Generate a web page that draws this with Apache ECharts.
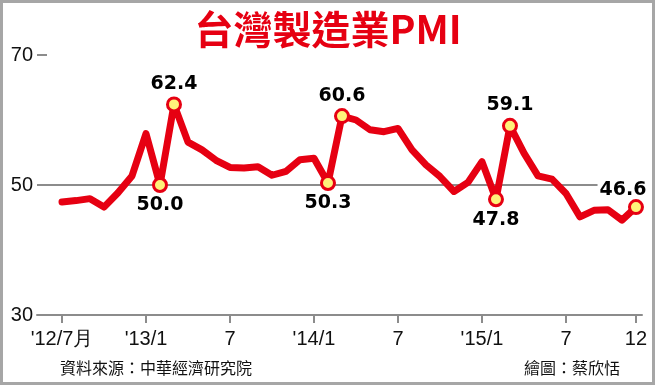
<!DOCTYPE html>
<html>
<head>
<meta charset="utf-8">
<script src="https://cdn.jsdelivr.net/npm/echarts@6/dist/echarts.min.js"></script>
<style>
html,body{margin:0;padding:0;background:#fff;}
#c{width:656px;height:386px;}
</style>
</head>
<body>
<div id="c"></div>
<script>
// months from 2012/7 to 2015/12
const months = [
  '2012/7','2012/8','2012/9','2012/10','2012/11','2012/12',
  '2013/1','2013/2','2013/3','2013/4','2013/5','2013/6','2013/7','2013/8','2013/9','2013/10','2013/11','2013/12',
  '2014/1','2014/2','2014/3','2014/4','2014/5','2014/6','2014/7','2014/8','2014/9','2014/10','2014/11','2014/12',
  '2015/1','2015/2','2015/3','2015/4','2015/5','2015/6','2015/7','2015/8','2015/9','2015/10','2015/11','2015/12'
];
const pmi = [
  47.4, 47.6, 47.9, 46.6, 48.8, 51.4,
  57.9, 50.0, 62.4, 56.6, 55.4, 53.8, 52.7, 52.6, 52.8, 51.5, 52.1, 53.9,
  54.1, 50.3, 60.6, 60.0, 58.5, 58.2, 58.7, 55.4, 53.1, 51.3, 49.0, 50.4,
  53.6, 47.8, 59.1, 54.9, 51.4, 50.9, 48.7, 45.1, 46.1, 46.2, 44.6, 46.6
];
// highlighted points (month index) and label side
const markIdx = [7, 8, 19, 20, 31, 32, 41];
const markSide = ['bottom', 'top', 'bottom', 'top', 'bottom', 'top', 'top'];
// x tick positions (month index) and their labels
const tickIdx = [0, 6, 12, 18, 24, 30, 36, 41];
const tickLabels = ["'12/7月", "'13/1", '7', "'14/1", '7', "'15/1", '7', '12'];

const chart = echarts.init(document.getElementById('c'), null, {renderer: 'canvas'});

const lineData = pmi.map((v, i) => [i, v]);
const markData = markIdx.map((idx, k) => ({
  value: [idx, pmi[idx]],
  label: Object.assign({
    position: markSide[k]
  }, idx === 41 ? {offset: [-13, 3], backgroundColor: '#fff', padding: [0, 2]} : {})
}));

const option = {
  animation: false,
  backgroundColor: '#fff',
  title: {
    text: '台灣製造業PMI',
    left: 'center',
    top: 5,
    textStyle: {
      color: '#e60012',
      fontSize: 39,
      fontWeight: 'bold',
      fontFamily: 'Noto Sans CJK TC'
    }
  },
  grid: {left: 37, right: 14, top: 55, bottom: 71},
  xAxis: {
    type: 'value',
    min: -1.786,
    max: 41.43,
    axisLine: {show: true, onZero: false, lineStyle: {color: '#8c8c8c', width: 2}},
    axisTick: {show: true, customValues: tickIdx, length: 8, lineStyle: {color: '#8c8c8c', width: 2}},
    axisLabel: {
      customValues: tickIdx,
      formatter: (v) => tickLabels[tickIdx.indexOf(Math.round(v))] || '',
      color: '#111',
      fontSize: 20,
      fontFamily: 'Liberation Sans',
      margin: 14
    },
    splitLine: {show: false}
  },
  yAxis: {
    type: 'value',
    min: 30,
    max: 70,
    interval: 20,
    axisLine: {show: false, onZero: false},
    axisTick: {show: true, inside: true, length: 10, lineStyle: {color: '#8c8c8c', width: 2}},
    axisLabel: {
      color: '#111',
      fontSize: 20,
      fontFamily: 'Liberation Sans',
      margin: 4
    },
    splitLine: {show: true, showMinLine: false, showMaxLine: false, lineStyle: {color: '#8c8c8c', width: 2}}
  },
  series: [
    {
      type: 'line',
      data: lineData,
      showSymbol: false,
      symbol: 'none',
      lineStyle: {color: '#e60012', width: 7, cap: 'round', join: 'round'},
      z: 3
    },
    {
      type: 'scatter',
      data: markData,
      symbol: 'circle',
      symbolSize: 13,
      itemStyle: {color: '#fff27a', borderColor: '#e60012', borderWidth: 3, opacity: 1},
      label: {
        show: true,
        formatter: (p) => p.value[1].toFixed(1),
        color: '#000',
        fontSize: 19,
        fontWeight: 'bold',
        fontFamily: 'DejaVu Sans',
        distance: 3
      },
      z: 5
    }
  ],
  graphic: [
    {
      type: 'rect',
      shape: {x: 1.5, y: 1.5, width: 652, height: 382},
      style: {fill: 'none', stroke: '#a6a6a6', lineWidth: 3},
      silent: true
    },
    {
      type: 'text',
      left: 60,
      top: 360,
      style: {text: '資料來源：中華經濟研究院', fill: '#111', font: '16px "Noto Sans CJK TC"'}
    },
    {
      type: 'text',
      right: 36,
      top: 360,
      style: {text: '繪圖：蔡欣恬', fill: '#111', font: '16px "Noto Sans CJK TC"'}
    }
  ]
};
chart.setOption(option);
</script>
</body>
</html>
